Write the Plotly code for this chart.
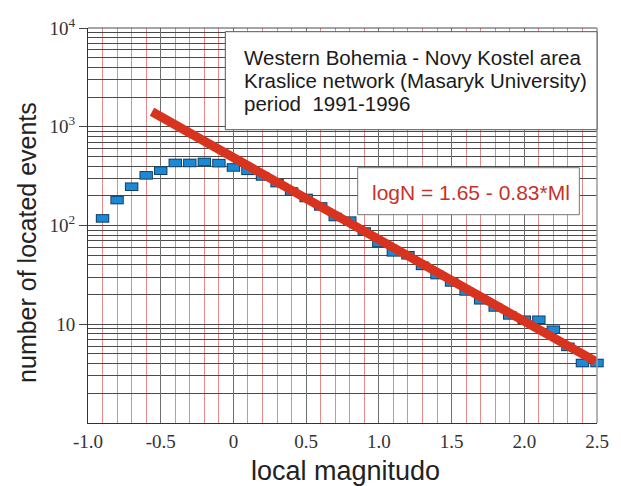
import plotly.graph_objects as go

# ---- data ----
magnitude = [-0.9, -0.8, -0.7, -0.6, -0.5, -0.4, -0.3, -0.2, -0.1, 0.0,
             0.1, 0.2, 0.3, 0.4, 0.5, 0.6, 0.7, 0.8, 0.9, 1.0,
             1.1, 1.2, 1.3, 1.4, 1.5, 1.6, 1.7, 1.8, 1.9, 2.0,
             2.1, 2.2, 2.3, 2.4, 2.5]
events = [118, 181, 247, 322, 359, 430, 430, 440, 428, 387,
          358, 314, 269, 221, 190, 156, 122, 112, 87, 66.5,
          53.5, 50, 39, 31.5, 26.5, 21.5, 17.5, 14.8, 12.3, 11.1,
          11.1, 8.8, 5.9, 4.05, 4.05]

fit_m = [-0.56, 2.49]
fit_n = [1420, 4.2]

x_tick_vals = [-1.0, -0.5, 0.0, 0.5, 1.0, 1.5, 2.0, 2.5]
x_tick_text = ["-1.0", "-0.5", "0", "0.5", "1.0", "1.5", "2.0", "2.5"]
y_tick_vals = [10, 100, 1000, 10000]
y_tick_text = ["10", "10<sup>2</sup>", "10<sup>3</sup>", "10<sup>4</sup>"]
y_minor_vals = [m * 10 ** d for d in range(0, 4) for m in range(2, 10)]

info_lines = ["Western Bohemia - Novy Kostel area",
              "Kraslice network (Masaryk University)",
              "period  1991-1996"]
fit_text = "logN = 1.65 - 0.83*Ml"

SERIF = "Liberation Serif, Times New Roman, serif"
SANS = "Liberation Sans, Arial, sans-serif"

# layout helpers (pixel -> paper)
PL, PR, PT, PB = 88, 607, 28.3, 423.3


def px(xp):
    return (xp - PL) / (PR - PL)


def py(yp):
    return (PB - yp) / (PB - PT)


fig = go.Figure()

# marker border (dark) and fill (blue), drawn as wide rectangles
fig.add_trace(go.Scatter(
    x=magnitude, y=events, mode="markers", cliponaxis=False,
    marker=dict(symbol="line-ew", size=9.6, color="#123e66",
                line=dict(width=8.6, color="#123e66")),
    hoverinfo="skip", showlegend=False))
fig.add_trace(go.Scatter(
    x=magnitude, y=events, mode="markers", cliponaxis=False,
    marker=dict(symbol="line-ew", size=8.2, color="#1b8ad6",
                line=dict(width=6.6, color="#1b8ad6")),
    showlegend=False))

# fitted line
fig.add_trace(go.Scatter(
    x=fit_m, y=fit_n, mode="lines",
    line=dict(color="#d8331f", width=9),
    showlegend=False))

annotations = []
for i, (line, ypix) in enumerate(zip(info_lines, [58, 81, 104])):
    annotations.append(dict(
        text=line, xref="paper", yref="paper", x=px(245), y=py(ypix),
        xanchor="left", yanchor="middle", align="left", showarrow=False,
        font=dict(family=SANS, size=20.5, color="#1a1a1a")))
annotations += [
    dict(text=fit_text, xref="paper", yref="paper", x=px(478.5), y=py(193),
         xanchor="center", yanchor="middle", showarrow=False,
         font=dict(family=SANS, size=21, color="#c8322a")),
    dict(text="number of located events", xref="paper", yref="paper",
         x=px(25), y=py(243), xanchor="center", yanchor="middle",
         textangle=-90, showarrow=False,
         font=dict(family=SANS, size=25, color="#222222")),
    dict(text="local magnitudo", xref="paper", yref="paper",
         x=px(351), y=py(471), xanchor="center", yanchor="middle",
         showarrow=False,
         font=dict(family=SANS, size=27, color="#222222")),
]

fig.update_layout(
    width=621, height=486, autosize=False,
    margin=dict(l=88, r=14, t=28, b=63),
    paper_bgcolor="white", plot_bgcolor="white",
    xaxis=dict(
        range=[-1.0, 2.5], tickmode="array", tickvals=x_tick_vals,
        ticktext=x_tick_text, ticks="", ticklabelstandoff=1,
        tickfont=dict(family=SERIF, size=19, color="#333333"),
        showgrid=True, gridcolor="#6e6e6e", gridwidth=1,
        minor=dict(dtick=0.1, tick0=0, showgrid=True,
                   gridcolor="#e48a8a", gridwidth=1, ticks=""),
        showline=True, linecolor="#333333", linewidth=1,
        zeroline=False,
    ),
    yaxis=dict(
        type="log", range=[0, 4], tickmode="array", tickvals=y_tick_vals,
        ticktext=y_tick_text, ticks="outside", ticklen=8,
        tickcolor="#444444",
        tickfont=dict(family=SERIF, size=19, color="#333333"),
        showgrid=True, gridcolor="#4a4a4a", gridwidth=1,
        minor=dict(tickmode="array", tickvals=y_minor_vals, showgrid=True,
                   gridcolor="#4a4a4a", gridwidth=1, ticks=""),
        showline=True, linecolor="#333333", linewidth=1,
        zeroline=False,
    ),
    shapes=[
        # frame top/right
        dict(type="line", xref="paper", yref="paper", x0=0, x1=1, y0=1, y1=1,
             line=dict(color="#4a4a4a", width=1)),
        dict(type="line", xref="paper", yref="paper", x0=1, x1=1, y0=0, y1=1,
             line=dict(color="#9a9a9a", width=1.5)),
        # info box
        dict(type="rect", xref="paper", yref="paper", x0=px(228), x1=1.0,
             y0=py(130), y1=py(32), fillcolor="white",
             line=dict(color="#555555", width=1), layer="above"),
        # formula box
        dict(type="rect", xref="paper", yref="paper", x0=px(363), x1=px(589),
             y0=py(215), y1=py(168), fillcolor="white",
             line=dict(color="#777777", width=1), layer="above"),
    ],
    annotations=annotations,
)

fig.write_html(
    "out.html",
    config={"responsive": False, "displayModeBar": False},
    post_script="document.body.style.margin='0px';"
                "document.body.style.padding='0px';"
                "document.documentElement.style.overflow='hidden';"
                "document.body.style.overflow='hidden';")
